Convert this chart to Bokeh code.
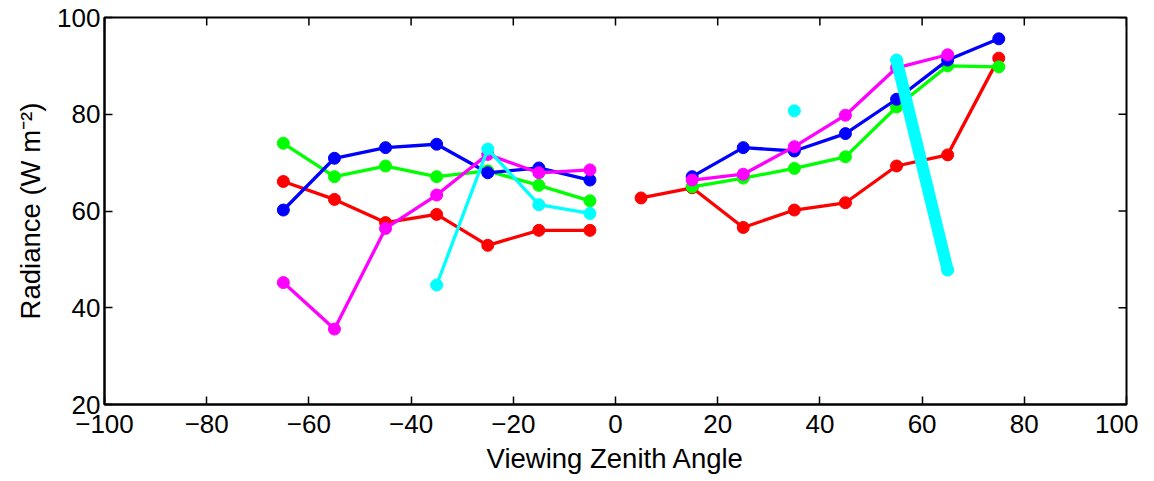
import math
from bokeh.plotting import figure
from bokeh.models import Range1d, FixedTicker
from bokeh.embed import file_html
from bokeh.resources import INLINE

nan = float("nan")

# Viewing zenith angles (left / right of nadir)
x_left = [-65, -55, -45, -35, -25, -15, -5]
x_right = [5, 15, 25, 35, 45, 55, 65, 75]

red_left = [66.1, 62.4, 57.6, 59.3, 52.9, 56.0, 56.0]
red_right = [62.7, 64.8, 56.6, 60.2, 61.7, 69.3, 71.6, 91.6]
green_left = [74.0, 67.1, 69.3, 67.1, 68.3, 65.3, 62.1]
green_right = [nan, 65.0, 66.8, 68.8, 71.2, 81.5, 90.0, 89.8]
blue_left = [60.2, 70.9, 73.1, 73.8, 67.9, 68.9, 66.4]
blue_right = [nan, 67.1, 73.1, 72.4, 76.0, 83.1, 91.2, 95.6]
magenta_left = [45.2, 35.6, 56.4, 63.3, 71.7, 67.9, 68.5]
magenta_right = [nan, 66.4, 67.6, 73.3, 79.8, 89.6, 92.3, nan]
cyan_left = [nan, nan, nan, 44.7, 72.8, 61.3, 59.5]
cyan_right = [nan, nan, nan, 80.7, nan, 91.2, 47.8, nan]

x_ticks = [-100, -80, -60, -40, -20, 0, 20, 40, 60, 80, 100]
y_ticks = [20, 40, 60, 80, 100]
X_MIN, X_MAX = -100, 100
Y_MIN, Y_MAX = 20, 100

FONT = "Liberation Sans"
FS = "26px"
FS_LABEL = "27.5px"

p = figure(width=1138, height=477, output_backend="svg", toolbar_location=None,
           x_range=Range1d(X_MIN, X_MAX), y_range=Range1d(Y_MIN, Y_MAX),
           min_border_left=104, min_border_right=12, min_border_top=17, min_border_bottom=73)
p.background_fill_color = "white"
p.border_fill_color = "white"
p.outline_line_color = "black"
p.outline_line_width = 2
p.xgrid.visible = False
p.ygrid.visible = False

def style_axis(ax, ticks):
    ax.ticker = FixedTicker(ticks=ticks)
    ax.major_tick_in = 8
    ax.major_tick_out = 0
    ax.minor_tick_in = 0
    ax.minor_tick_out = 0
    ax.axis_line_width = 2
    ax.major_tick_line_width = 1.5
    ax.axis_line_color = "black"
    ax.major_tick_line_color = "black"
    ax.major_label_text_font = FONT
    ax.major_label_text_font_size = FS
    ax.major_label_text_color = "black"
    ax.major_label_overrides = {t: (str(t) if t >= 0 else "\u2212" + str(-t)) for t in ticks}
    ax.axis_label_text_font = FONT
    ax.axis_label_text_font_size = FS_LABEL
    ax.axis_label_text_font_style = "normal"
    ax.axis_label_text_color = "black"

style_axis(p.xaxis[0], x_ticks)
style_axis(p.yaxis[0], y_ticks)
p.xaxis[0].axis_label = "Viewing Zenith Angle"
p.yaxis[0].axis_label = "Radiance (W m\u207b\u00b2)"
p.xaxis[0].major_label_standoff = 10
p.xaxis[0].axis_label_standoff = 7
p.yaxis[0].major_label_standoff = 4
p.yaxis[0].axis_label_standoff = 8

# inward ticks on the top and right edges (box style)
p.ray(x=x_ticks, y=[Y_MAX] * len(x_ticks), length=8, length_units="screen",
      angle=-math.pi / 2, line_color="black", line_width=1.5)
p.ray(x=[X_MAX] * len(y_ticks), y=y_ticks, length=8, length_units="screen",
      angle=math.pi, line_color="black", line_width=1.5)

series = [
    ("#ff0000", red_left, red_right),
    ("#00ff00", green_left, green_right),
    ("#0000ff", blue_left, blue_right),
    ("#ff00ff", magenta_left, magenta_right),
]
for color, yl, yr in series:
    for xs, ys in ((x_left, yl), (x_right, yr)):
        p.line(xs, ys, line_color=color, line_width=3.3, line_join="round")
        p.scatter(xs, ys, size=12, fill_color=color, line_color=color)

# cyan series
p.line(x_left, cyan_left, line_color="#00ffff", line_width=3.3, line_join="round")
p.scatter(x_left, cyan_left, size=12, fill_color="#00ffff", line_color="#00ffff")
p.scatter(x_right, cyan_right, size=12, fill_color="#00ffff", line_color="#00ffff")
p.line(x_right, cyan_right, line_color="#00ffff", line_width=12, line_cap="round")

open("out.html", "w").write(file_html(p, INLINE))
